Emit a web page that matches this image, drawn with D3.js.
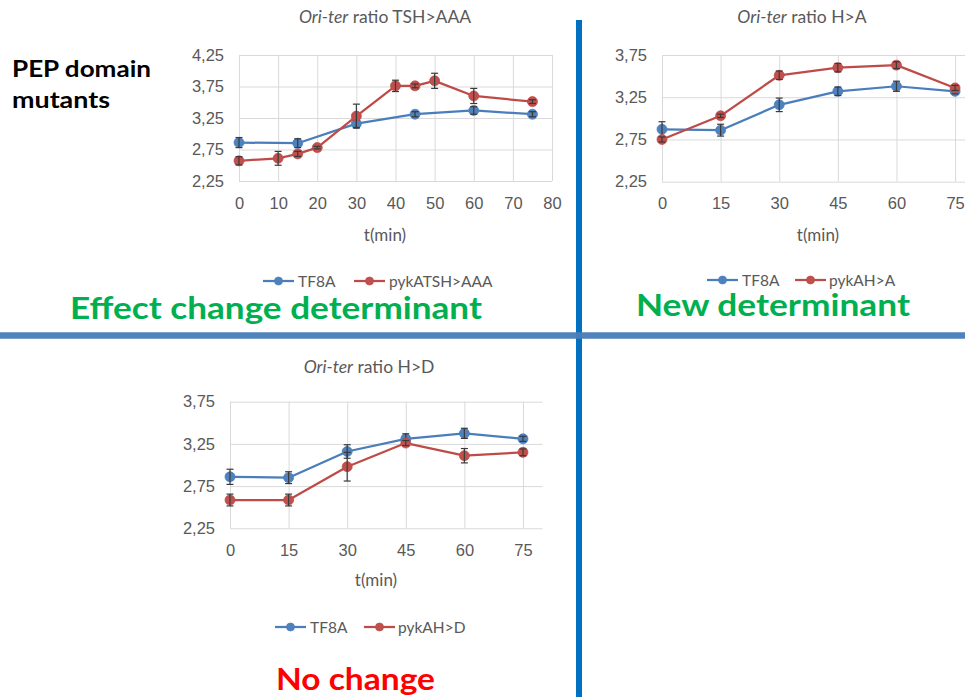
<!DOCTYPE html>
<html>
<head>
<meta charset="utf-8">
<script src="https://cdn.jsdelivr.net/npm/d3@7"></script>
<style>
  html, body { margin: 0; padding: 0; background: #fff; }
  svg { display: block; font-family: Lato, "Open Sans", sans-serif; }
</style>
</head>
<body>
<svg id="chart" width="965" height="697"></svg>
<script>
// ---------------- DATA ----------------
const timesStd = [0, 15, 30, 45, 60, 75];
const timesTSH = [0, 10, 15, 20, 30, 40, 45, 50, 60, 75];

// Chart 1: Ori-ter ratio TSH>AAA
const tf8a_1 = [2.86, 2.85, 3.16, 3.31, 3.37, 3.31];
const tf8a_1_err = [0.08, 0.07, 0.06, 0.04, 0.06, 0.04];
const pykATSH = [2.57, 2.61, 2.68, 2.78, 3.28, 3.76, 3.76, 3.84, 3.60, 3.51];
const pykATSH_err = [0.065, 0.11, 0.04, 0.02, 0.19, 0.09, 0.03, 0.12, 0.12, 0.03];

// Chart 2: Ori-ter ratio H>A
const tf8a_2 = [2.87, 2.86, 3.16, 3.32, 3.38, 3.32];
const tf8a_2_err = [0.09, 0.07, 0.08, 0.05, 0.06, 0.03];
const pykAHA = [2.75, 3.03, 3.51, 3.60, 3.63, 3.36];
const pykAHA_err = [0.03, 0.02, 0.05, 0.05, 0.04, 0.03];

// Chart 3: Ori-ter ratio H>D
const tf8a_3 = [2.86, 2.85, 3.16, 3.31, 3.375, 3.31];
const tf8a_3_err = [0.09, 0.07, 0.08, 0.06, 0.06, 0.03];
const pykAHD = [2.585, 2.585, 2.98, 3.26, 3.11, 3.15];
const pykAHD_err = [0.07, 0.07, 0.17, 0.03, 0.085, 0.04];

// Tick values
const yTicks1 = [2.25, 2.75, 3.25, 3.75, 4.25];
const yTicks2 = [2.25, 2.75, 3.25, 3.75];
const xTicks1 = [0, 10, 20, 30, 40, 50, 60, 70, 80];
const xTicks2 = [0, 15, 30, 45, 60, 75];

const seriesNames = ["TF8A", "pykATSH>AAA", "pykAH>A", "pykAH>D"];

// ---------------- STYLE ----------------
const BLUE = "#4a7ebb", BLUE_M = "#4f81bd";
const RED = "#be4b48", RED_M = "#c0504d";
const GRID = "#d9d9d9", TXT = "#595959";

const svg = d3.select("#chart");
const fmt = v => d3.format(".2f")(v).replace(".", ",");

const charts = [
  {
    title: "TSH>AAA",
    left: 239, right: 552, top: 55, bottom: 181,
    yDomain: [2.25, 4.25], yTicks: yTicks1, xTicks: xTicks1,
    titleX: 385, titleY: 23, xLabelX: 385, xLabelY: 241,
    legendY: 281, legend: [263, 298, 354, 389],
    series: [
      { name: seriesNames[0], x: timesStd, y: tf8a_1, e: tf8a_1_err, c: BLUE, m: BLUE_M },
      { name: seriesNames[1], x: timesTSH, y: pykATSH, e: pykATSH_err, c: RED, m: RED_M }
    ]
  },
  {
    title: "H>A",
    left: 662, right: 974.6, top: 55, bottom: 181.7,
    yDomain: [2.25, 3.75], yTicks: yTicks2, xTicks: xTicks2,
    titleX: 802, titleY: 23, xLabelX: 818, xLabelY: 241,
    legendY: 280, legend: [707, 742, 795, 829],
    series: [
      { name: seriesNames[0], x: timesStd, y: tf8a_2, e: tf8a_2_err, c: BLUE, m: BLUE_M },
      { name: seriesNames[2], x: timesStd, y: pykAHA, e: pykAHA_err, c: RED, m: RED_M }
    ]
  },
  {
    title: "H>D",
    left: 230, right: 542.5, top: 401.7, bottom: 528.3,
    yDomain: [2.25, 3.75], yTicks: yTicks2, xTicks: xTicks2,
    titleX: 369, titleY: 373, xLabelX: 376, xLabelY: 586,
    legendY: 627, legend: [275, 310, 364, 398],
    series: [
      { name: seriesNames[0], x: timesStd, y: tf8a_3, e: tf8a_3_err, c: BLUE, m: BLUE_M },
      { name: seriesNames[3], x: timesStd, y: pykAHD, e: pykAHD_err, c: RED, m: RED_M }
    ]
  }
];

charts.forEach(ch => {
  const g = svg.append("g");
  const x = d3.scaleLinear().domain([0, 80]).range([ch.left, ch.right]);
  const y = d3.scaleLinear().domain(ch.yDomain).range([ch.bottom, ch.top]);
  const w = ch.right - ch.left, h = ch.bottom - ch.top;

  // Y gridlines + labels
  const ya = g.append("g").attr("transform", `translate(${ch.left},0)`)
    .call(d3.axisLeft(y).tickValues(ch.yTicks).tickSize(-w).tickPadding(15).tickFormat(fmt));
  ya.select(".domain").remove();
  ya.selectAll("line").attr("stroke", GRID).attr("stroke-width", 1);
  ya.selectAll("text").attr("fill", TXT).style("font-size", "16.5px");

  // X gridlines + labels
  const xa = g.append("g").attr("transform", `translate(0,${ch.bottom})`)
    .call(d3.axisBottom(x).tickValues(ch.xTicks).tickSize(-h).tickPadding(16).tickFormat(d3.format("d")));
  xa.select(".domain").remove();
  xa.selectAll("line").attr("stroke", GRID).attr("stroke-width", 1);
  xa.selectAll("text").attr("fill", TXT).style("font-size", "16.5px");

  // Title
  const t = g.append("text").attr("x", ch.titleX).attr("y", ch.titleY)
    .attr("text-anchor", "middle").attr("fill", TXT).style("font-size", "17.5px");
  t.append("tspan").style("font-style", "italic").text("Ori-ter");
  t.append("tspan").text(" ratio " + ch.title);

  // X label
  g.append("text").attr("x", ch.xLabelX).attr("y", ch.xLabelY)
    .attr("text-anchor", "middle").attr("fill", TXT).style("font-size", "17px").text("t(min)");

  // Series
  const line = d3.line().x(d => x(d[0])).y(d => y(d[1]));
  ch.series.forEach(s => {
    const pts = s.x.map((xv, i) => [xv, s.y[i], s.e[i]]);
    g.append("path").datum(pts).attr("d", line).attr("fill", "none")
      .attr("stroke", s.c).attr("stroke-width", 2.25).attr("stroke-linejoin", "round");
    g.selectAll(null).data(pts).enter().append("circle")
      .attr("cx", d => x(d[0])).attr("cy", d => y(d[1])).attr("r", 5)
      .attr("fill", s.m).attr("stroke", s.c).attr("stroke-width", 0.75);
    const eb = g.selectAll(null).data(pts).enter().append("g").attr("stroke", "#3a3a3a").attr("stroke-width", 1.2);
    eb.append("line").attr("x1", d => x(d[0])).attr("x2", d => x(d[0]))
      .attr("y1", d => y(d[1] - d[2])).attr("y2", d => y(d[1] + d[2]));
    eb.append("line").attr("x1", d => x(d[0]) - 3.5).attr("x2", d => x(d[0]) + 3.5)
      .attr("y1", d => y(d[1] - d[2])).attr("y2", d => y(d[1] - d[2]));
    eb.append("line").attr("x1", d => x(d[0]) - 3.5).attr("x2", d => x(d[0]) + 3.5)
      .attr("y1", d => y(d[1] + d[2])).attr("y2", d => y(d[1] + d[2]));
  });

  // Legend
  ch.series.forEach((s, i) => {
    const lx = ch.legend[i * 2], tx = ch.legend[i * 2 + 1];
    g.append("line").attr("x1", lx).attr("x2", lx + 31).attr("y1", ch.legendY).attr("y2", ch.legendY)
      .attr("stroke", s.c).attr("stroke-width", 2.25);
    g.append("circle").attr("cx", lx + 15.5).attr("cy", ch.legendY).attr("r", 4)
      .attr("fill", s.m).attr("stroke", s.c).attr("stroke-width", 0.75);
    g.append("text").attr("x", tx).attr("y", ch.legendY + 5.5).attr("fill", TXT)
      .style("font-size", "15.5px").text(s.name);
  });
});

// ---------------- Annotations ----------------
svg.append("text").attr("x", 12).attr("y", 77).attr("font-weight", "bold").attr("fill", "#000")
  .style("font-size", "22px").attr("textLength", 139).attr("lengthAdjust", "spacingAndGlyphs").text("PEP domain");
svg.append("text").attr("x", 12).attr("y", 108).attr("font-weight", "bold").attr("fill", "#000")
  .style("font-size", "22px").attr("textLength", 98).attr("lengthAdjust", "spacingAndGlyphs").text("mutants");

svg.append("text").attr("x", 70).attr("y", 319).attr("font-weight", "bold").attr("fill", "#00b050")
  .style("font-size", "31px").attr("textLength", 412).attr("lengthAdjust", "spacingAndGlyphs").text("Effect change determinant");
svg.append("text").attr("x", 636).attr("y", 316).attr("font-weight", "bold").attr("fill", "#00b050")
  .style("font-size", "29.5px").attr("textLength", 274).attr("lengthAdjust", "spacingAndGlyphs").text("New determinant");
svg.append("text").attr("x", 276).attr("y", 690).attr("font-weight", "bold").attr("fill", "#ff0000")
  .style("font-size", "31px").attr("textLength", 159).attr("lengthAdjust", "spacingAndGlyphs").text("No change");

// Dividers
svg.append("line").attr("x1", 579).attr("x2", 579).attr("y1", 20).attr("y2", 697)
  .attr("stroke", "#0070c0").attr("stroke-width", 6);
svg.append("line").attr("x1", 0).attr("x2", 965).attr("y1", 335.5).attr("y2", 335.5)
  .attr("stroke", "#4a7ebb").attr("stroke-width", 6.5).attr("stroke-opacity", 0.97);
</script>
</body>
</html>
